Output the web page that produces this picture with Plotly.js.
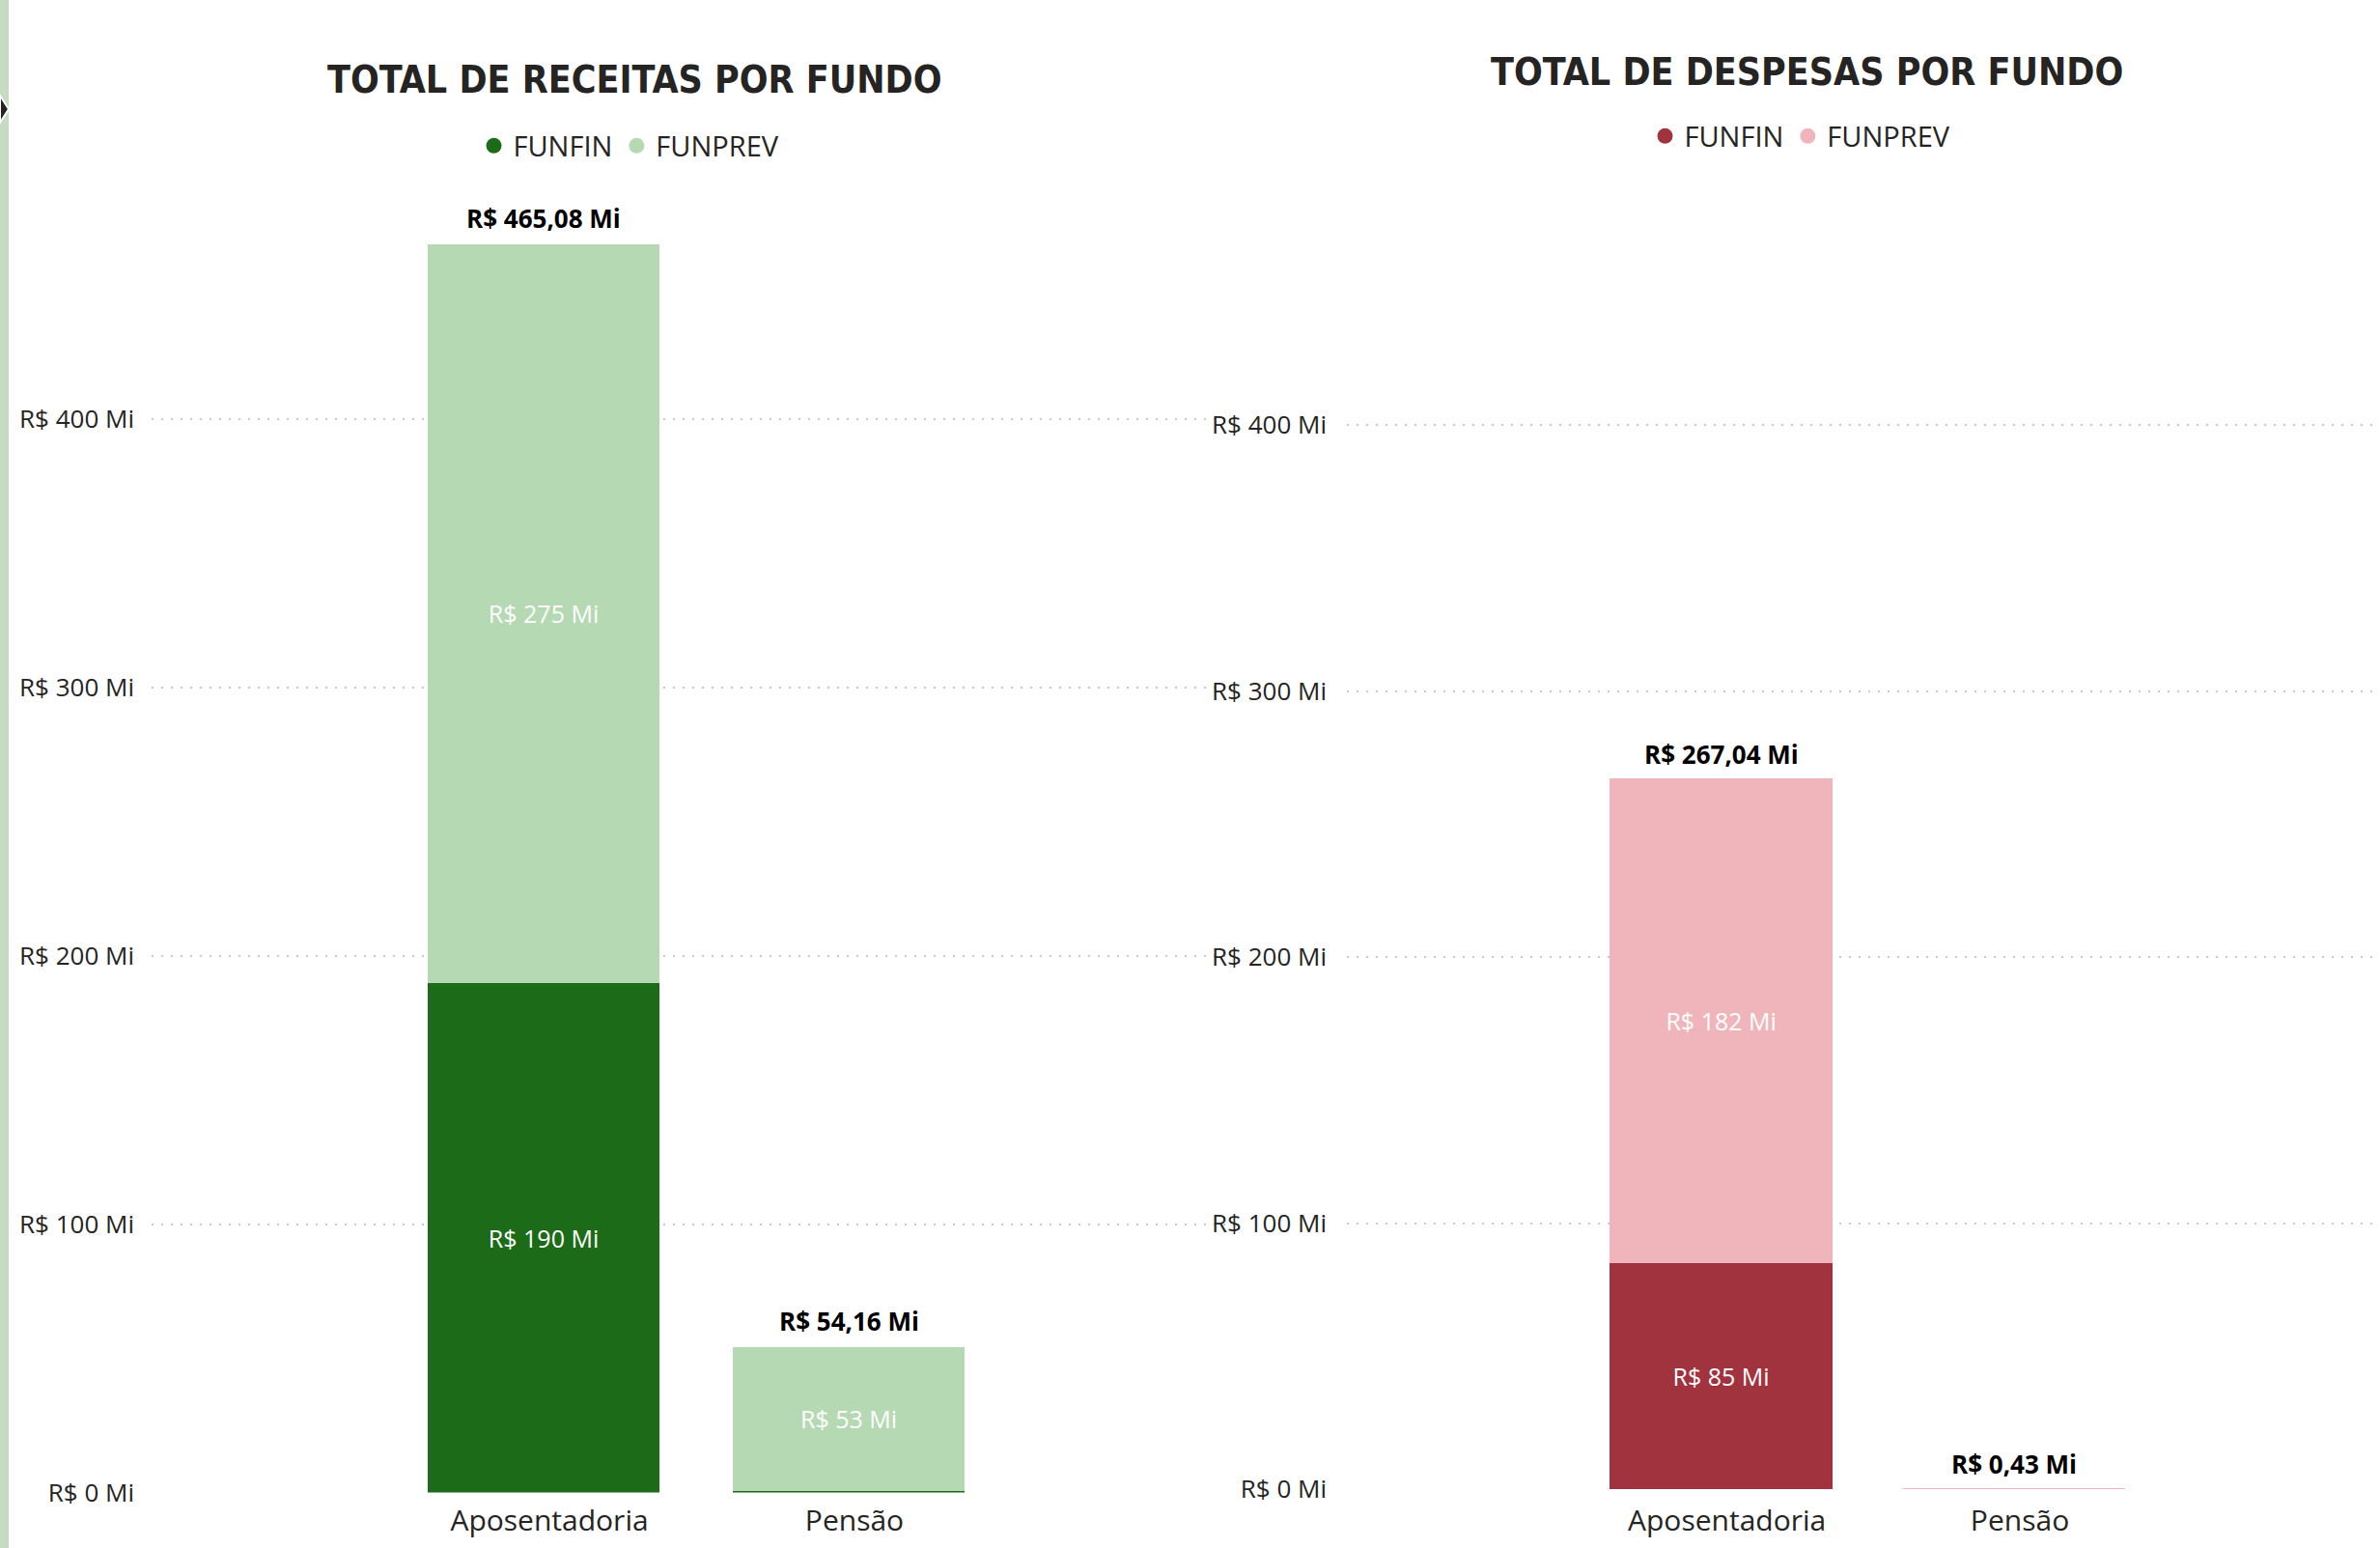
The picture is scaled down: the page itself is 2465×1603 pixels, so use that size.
<!DOCTYPE html>
<html>
<head>
<meta charset="utf-8">
<script src="https://cdn.plot.ly/plotly-3.0.1.min.js"></script>
<style>
  html, body { margin: 0; padding: 0; background: #ffffff; }
  #chart { width: 2465px; height: 1603px; }
</style>
</head>
<body>
<div id="chart"></div>
<script>
// ---- Data ----
const categorias = ['Aposentadoria', 'Pensão'];
const fundos = ['FUNFIN', 'FUNPREV'];
const receitasFunfin = [189.9, 0.7];
const receitasFunprev = [275.18, 53.46];
const despesasFunfin = [84.9, 0];
const despesasFunprev = [182.14, 0.43];
const yTickVals = [0, 100, 200, 300, 400];
const yTickText = ['R$ 0 Mi', 'R$ 100 Mi', 'R$ 200 Mi', 'R$ 300 Mi', 'R$ 400 Mi'];
const tituloReceitas = 'TOTAL DE RECEITAS POR FUNDO';
const tituloDespesas = 'TOTAL DE DESPESAS POR FUNDO';

// ---- Styles ----
const W = 2465, H = 1603;
const corFunfinRec = '#1B6B18', corFunprevRec = '#B5D9B3';
const corFunfinDesp = '#A1333F', corFunprevDesp = '#EFB5BA';
const txtDark = '#252423';
const baseFont = 'Open Sans, Noto Sans, sans-serif';
const titleFont = 'DejaVu Sans Condensed, DejaVu Sans, sans-serif';

const px = v => v / W;
const py = v => 1 - v / H;

function innerText(vals) {
  return vals.map(v => v >= 5 ? 'R$ ' + Math.round(v) + ' Mi' : '');
}
function totalText(t) {
  return 'R$ ' + t.toFixed(2).replace('.', ',') + ' Mi';
}

function barTrace(name, vals, color, xa, ya) {
  return {
    type: 'bar', x: categorias, y: vals, name: name,
    xaxis: xa, yaxis: ya, showlegend: false,
    marker: { color: color, line: { width: 0 } },
    text: innerText(vals), textposition: 'inside', insidetextanchor: 'middle',
    textangle: 0, constraintext: 'none',
    insidetextfont: { family: baseFont, size: 25, color: '#ffffff' },
    hoverinfo: 'skip'
  };
}
function legendTrace(name, color, xa, ya, leg) {
  return {
    type: 'scatter', mode: 'markers', x: [null], y: [null], name: name,
    xaxis: xa, yaxis: ya, legend: leg,
    marker: { symbol: 'circle', size: 16, color: color },
    hoverinfo: 'skip'
  };
}

const traces = [
  barTrace(fundos[0], receitasFunfin, corFunfinRec, 'x', 'y'),
  barTrace(fundos[1], receitasFunprev, corFunprevRec, 'x', 'y'),
  barTrace(fundos[0], despesasFunfin, corFunfinDesp, 'x2', 'y2'),
  barTrace(fundos[1], despesasFunprev, corFunprevDesp, 'x2', 'y2'),
  legendTrace(fundos[0], corFunfinRec, 'x', 'y', 'legend'),
  legendTrace(fundos[1], corFunprevRec, 'x', 'y', 'legend'),
  legendTrace(fundos[0], corFunfinDesp, 'x2', 'y2', 'legend2'),
  legendTrace(fundos[1], corFunprevDesp, 'x2', 'y2', 'legend2')
];

const totaisRec = categorias.map((c, i) => receitasFunfin[i] + receitasFunprev[i]);
const totaisDesp = categorias.map((c, i) => despesasFunfin[i] + despesasFunprev[i]);

const annotations = [];
categorias.forEach((c, i) => {
  annotations.push({ xref: 'x', yref: 'y', x: c, y: totaisRec[i], yanchor: 'bottom', yshift: 7,
    text: '<b>' + totalText(totaisRec[i]) + '</b>', showarrow: false,
    font: { family: baseFont, size: 26, color: '#000000' } });
  annotations.push({ xref: 'x2', yref: 'y2', x: c, y: totaisDesp[i], yanchor: 'bottom', yshift: 5,
    text: '<b>' + totalText(totaisDesp[i]) + '</b>', showarrow: false,
    font: { family: baseFont, size: 26, color: '#000000' } });
});
annotations.push({ xref: 'paper', yref: 'paper', x: px(657), y: py(82), xanchor: 'center', yanchor: 'middle',
  text: '<b>' + tituloReceitas + '</b>', showarrow: false, font: { family: titleFont, size: 39, color: txtDark } });
annotations.push({ xref: 'paper', yref: 'paper', x: px(1871), y: py(74), xanchor: 'center', yanchor: 'middle',
  text: '<b>' + tituloDespesas + '</b>', showarrow: false, font: { family: titleFont, size: 39, color: txtDark } });

function yAxis(domain, anchor, standoff) {
  return {
    domain: domain, anchor: anchor, range: [0, 480], fixedrange: true,
    tickvals: yTickVals, ticktext: yTickText, ticks: '',
    showline: false, zeroline: false, showgrid: true,
    gridcolor: '#C8C8C8', gridwidth: 2, griddash: '2px,8px',
    tickfont: { family: baseFont, size: 26, color: txtDark },
    ticklabelstandoff: standoff
  };
}
function xAxis(domain, range, anchor, standoff) {
  return {
    domain: domain, anchor: anchor, type: 'category', range: range, fixedrange: true,
    showgrid: false, zeroline: false, showline: false, ticks: '',
    tickfont: { family: baseFont, size: 30, color: txtDark },
    ticklabelstandoff: standoff, ticklabelshift: 6
  };
}

const layout = {
  width: W, height: H,
  margin: { l: 0, r: 0, t: 0, b: 0, pad: 0 },
  paper_bgcolor: '#ffffff', plot_bgcolor: '#ffffff',
  barmode: 'stack', bargap: 0.24,
  showlegend: true,
  font: { family: baseFont, color: txtDark },
  xaxis: xAxis([px(157), px(1280)], [-1.285, 2.269], 'y', 8),
  yaxis: yAxis([1 - 1545.5 / H, 1 - 211.1 / H], 'x', 17),
  xaxis2: xAxis([px(1395), 1], [-1.2775, 2.249], 'y2', 12),
  yaxis2: yAxis([1 - 1542 / H, 1 - 219.6 / H], 'x2', 20),
  legend: { orientation: 'h', x: px(652), xanchor: 'center', y: py(151), yanchor: 'middle',
    font: { family: baseFont, size: 29, color: txtDark }, bgcolor: 'rgba(0,0,0,0)',
    itemwidth: 30, traceorder: 'normal' },
  legend2: { orientation: 'h', x: px(1865), xanchor: 'center', y: py(141), yanchor: 'middle',
    font: { family: baseFont, size: 29, color: txtDark }, bgcolor: 'rgba(0,0,0,0)',
    itemwidth: 30, traceorder: 'normal' },
  annotations: annotations,
  shapes: [
    { type: 'rect', xref: 'paper', yref: 'paper', x0: 0, x1: px(9), y0: 0, y1: 1,
      fillcolor: '#C6DBC2', line: { width: 0 }, layer: 'above' },
    { type: 'path', xref: 'paper', yref: 'paper',
      path: 'M 0 ' + py(99) + ' L ' + px(9) + ' ' + py(113) + ' L 0 ' + py(127) + ' Z',
      fillcolor: '#252423', line: { color: '#ffffff', width: 2 }, layer: 'above' }
  ],
  hovermode: false
};

Plotly.newPlot('chart', traces, layout, { staticPlot: true, displayModeBar: false });
</script>
</body>
</html>
